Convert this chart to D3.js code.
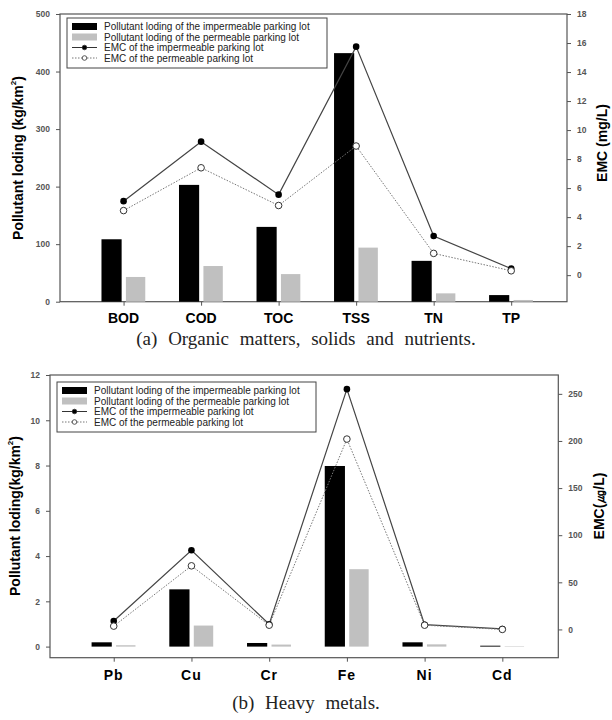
<!DOCTYPE html>
<html>
<head>
<meta charset="utf-8">
<script src="https://cdn.jsdelivr.net/npm/d3@7"></script>
<style>
  body { margin: 0; background: #fff; }
  svg text { font-family: "Liberation Sans", Arial, sans-serif; }
</style>
</head>
<body>
<div id="chart"></div>
<script>
// panel (a)
const catsA = ['BOD', 'COD', 'TOC', 'TSS', 'TN', 'TP'];
const loadImpA = [108.5, 203, 130, 432, 71, 11.5];
const loadPerA = [43, 62, 48, 94, 14.5, 3];
const emcImpA = [5.1, 9.2, 5.55, 15.75, 2.7, 0.45];
const emcPerA = [4.45, 7.4, 4.8, 8.9, 1.5, 0.3];
const leftTicksA = [0, 100, 200, 300, 400, 500];
const rightTicksA = [0, 2, 4, 6, 8, 10, 12, 14, 16, 18];

// panel (b)
const catsB = ['Pb', 'Cu', 'Cr', 'Fe', 'Ni', 'Cd'];
const loadImpB = [0.19, 2.53, 0.16, 7.98, 0.19, 0.04];
const loadPerB = [0.06, 0.93, 0.09, 3.42, 0.1, 0.02];
const emcImpB = [9, 84, 5.5, 255, 5, 0.5];
const emcPerB = [3.5, 67.5, 4.5, 202, 4.5, 0];
const leftTicksB = [0, 2, 4, 6, 8, 10, 12];
const rightTicksB = [0, 50, 100, 150, 200, 250];

const legendLabels = [
  'Pollutant loding of the impermeable parking lot',
  'Pollutant loding of the permeable parking lot',
  'EMC of the impermeable parking lot',
  'EMC of the permeable parking lot'
];

const width = 612, height = 720;
const svg = d3.select('#chart').append('svg')
  .attr('width', width).attr('height', height);

function drawPanel(p){
  const g = svg.append('g');
  const n = p.cats.length;

  const x = d3.scaleLinear().domain([-0.82, 5.72]).range([p.left, p.right]);
  const yL = d3.scaleLinear().domain(p.leftDomain).range([p.bottom, p.top]);
  const yR = d3.scaleLinear().domain(p.rightDomain).range([p.bottom, p.top]);

  // frame
  g.append('rect')
    .attr('x', p.left).attr('y', p.top)
    .attr('width', p.right - p.left).attr('height', p.bottom - p.top)
    .attr('fill', 'none').attr('stroke', '#555').attr('stroke-width', 1.2);

  // bars
  const idx = d3.range(n);
  g.selectAll('rect.imp').data(idx).enter().append('rect')
    .attr('class', 'imp')
    .attr('x', i => x(i - 0.285))
    .attr('width', i => x(i - 0.025) - x(i - 0.285))
    .attr('y', i => yL(p.loadImp[i]))
    .attr('height', i => yL(0) - yL(p.loadImp[i]))
    .attr('fill', '#000');
  g.selectAll('rect.per').data(idx).enter().append('rect')
    .attr('class', 'per')
    .attr('x', i => x(i + 0.03))
    .attr('width', i => x(i + 0.28) - x(i + 0.03))
    .attr('y', i => yL(p.loadPer[i]))
    .attr('height', i => yL(0) - yL(p.loadPer[i]))
    .attr('fill', '#c0c0c0');

  // EMC lines
  const line = vals => d3.line().x((d, i) => x(i)).y(d => yR(d))(vals);
  g.append('path').attr('d', line(p.emcImp))
    .attr('fill', 'none').attr('stroke', '#444').attr('stroke-width', 1.2);
  g.append('path').attr('d', line(p.emcPer))
    .attr('fill', 'none').attr('stroke', '#777').attr('stroke-width', 1)
    .attr('stroke-dasharray', '1.5,1.5');
  g.selectAll('circle.imp').data(p.emcImp).enter().append('circle')
    .attr('cx', (d, i) => x(i)).attr('cy', d => yR(d)).attr('r', 3.3)
    .attr('fill', '#000');
  g.selectAll('circle.per').data(p.emcPer).enter().append('circle')
    .attr('cx', (d, i) => x(i)).attr('cy', d => yR(d)).attr('r', 3.3)
    .attr('fill', '#fff').attr('stroke', '#333').attr('stroke-width', 1);

  // axes
  const axL = g.append('g').attr('transform', `translate(${p.left},0)`)
    .call(d3.axisLeft(yL).tickValues(p.leftTicks).tickSize(4).tickPadding(6));
  const axR = g.append('g').attr('transform', `translate(${p.right},0)`)
    .call(d3.axisRight(yR).tickValues(p.rightTicks).tickSize(4).tickPadding(6));
  const axB = g.append('g').attr('transform', `translate(0,${p.bottom})`)
    .call(d3.axisBottom(x).tickValues(idx).tickSize(4).tickFormat(''));
  [axL, axR, axB].forEach(a => {
    a.select('.domain').remove();
    a.selectAll('line').attr('stroke', '#555');
    a.selectAll('text').attr('font-size', 8.5).attr('font-weight', 'bold')
      .attr('fill', '#555').attr('font-family', '"Liberation Sans", Arial, sans-serif');
  });

  g.selectAll('text.cat').data(p.cats).enter().append('text')
    .attr('x', (d, i) => x(i)).attr('y', p.catY)
    .attr('text-anchor', 'middle').attr('font-size', 14).attr('font-weight', 'bold')
    .attr('letter-spacing', p.catSpacing)
    .text(d => d);

  // axis titles
  const tl = g.append('text')
    .attr('transform', `translate(${p.leftTitleX},${p.leftTitleY}) rotate(-90)`)
    .attr('text-anchor', 'middle').attr('font-size', 14).attr('font-weight', 'bold');
  tl.append('tspan').text(p.leftTitle);
  tl.append('tspan').attr('font-size', 8).attr('dy', -7).text('2');
  tl.append('tspan').attr('dy', 7).text(')');

  g.append('text')
    .attr('transform', `translate(${p.rightTitleX},${p.rightTitleY}) rotate(-90)`)
    .attr('text-anchor', 'middle').attr('font-size', 14).attr('font-weight', 'bold')
    .text(p.rightTitle);

  // legend
  const lg = g.append('g');
  lg.append('rect')
    .attr('x', p.legend.x).attr('y', p.legend.y)
    .attr('width', p.legend.w).attr('height', p.legend.h)
    .attr('fill', '#fff').attr('stroke', '#444').attr('stroke-width', 1);
  legendLabels.forEach((lab, i) => {
    const cy = p.legend.y + 8.5 + i * 10.5;
    const sx = p.legend.x + 5, sw = 25;
    if (i < 2) {
      lg.append('rect').attr('x', sx).attr('y', cy - 3.5).attr('width', sw).attr('height', 7)
        .attr('fill', i === 0 ? '#000' : '#c0c0c0');
    } else {
      lg.append('line').attr('x1', sx).attr('x2', sx + sw).attr('y1', cy).attr('y2', cy)
        .attr('stroke', i === 2 ? '#333' : '#777')
        .attr('stroke-dasharray', i === 2 ? null : '1.5,1.5');
      lg.append('circle').attr('cx', sx + sw / 2).attr('cy', cy).attr('r', 2.3)
        .attr('fill', i === 2 ? '#000' : '#fff').attr('stroke', '#333').attr('stroke-width', 0.8);
    }
    lg.append('text').attr('x', sx + sw + 7).attr('y', cy + 3.5)
      .attr('font-size', 10).attr('fill', '#222').text(lab);
  });

  // caption
  svg.append('text')
    .attr('x', p.capX).attr('y', p.capY)
    .attr('text-anchor', 'middle')
    .style('font-family', '"Liberation Serif", "DejaVu Serif", serif')
    .attr('font-size', 19).attr('word-spacing', 6).attr('fill', '#222')
    .text(p.caption);
}

drawPanel({
  cats: catsA, loadImp: loadImpA, loadPer: loadPerA, emcImp: emcImpA, emcPer: emcPerA,
  left: 60, right: 567, top: 14, bottom: 301.7,
  leftDomain: [0, 500], rightDomain: [-1.83, 18],
  leftTicks: leftTicksA, rightTicks: rightTicksA,
  catY: 323, catSpacing: 0,
  leftTitle: 'Pollutant loding (kg/km', leftTitleX: 23, leftTitleY: 158,
  rightTitle: 'EMC (mg/L)', rightTitleX: 607, rightTitleY: 143,
  legend: {x: 67, y: 18, w: 260, h: 50},
  caption: '(a) Organic matters, solids and nutrients.', capX: 306, capY: 345
});

drawPanel({
  cats: catsB, loadImp: loadImpB, loadPer: loadPerB, emcImp: emcImpB, emcPer: emcPerB,
  left: 50, right: 558.3, top: 375, bottom: 657.7,
  leftDomain: [-0.49, 12], rightDomain: [-30, 270],
  leftTicks: leftTicksB, rightTicks: rightTicksB,
  catY: 680, catSpacing: 1,
  leftTitle: 'Pollutant loding(kg/km', leftTitleX: 20, leftTitleY: 516,
  rightTitle: 'EMC(㎍/L)', rightTitleX: 604, rightTitleY: 506,
  legend: {x: 57, y: 382, w: 259, h: 50},
  caption: '(b) Heavy metals.', capX: 306, capY: 709
});
</script>
</body>
</html>
